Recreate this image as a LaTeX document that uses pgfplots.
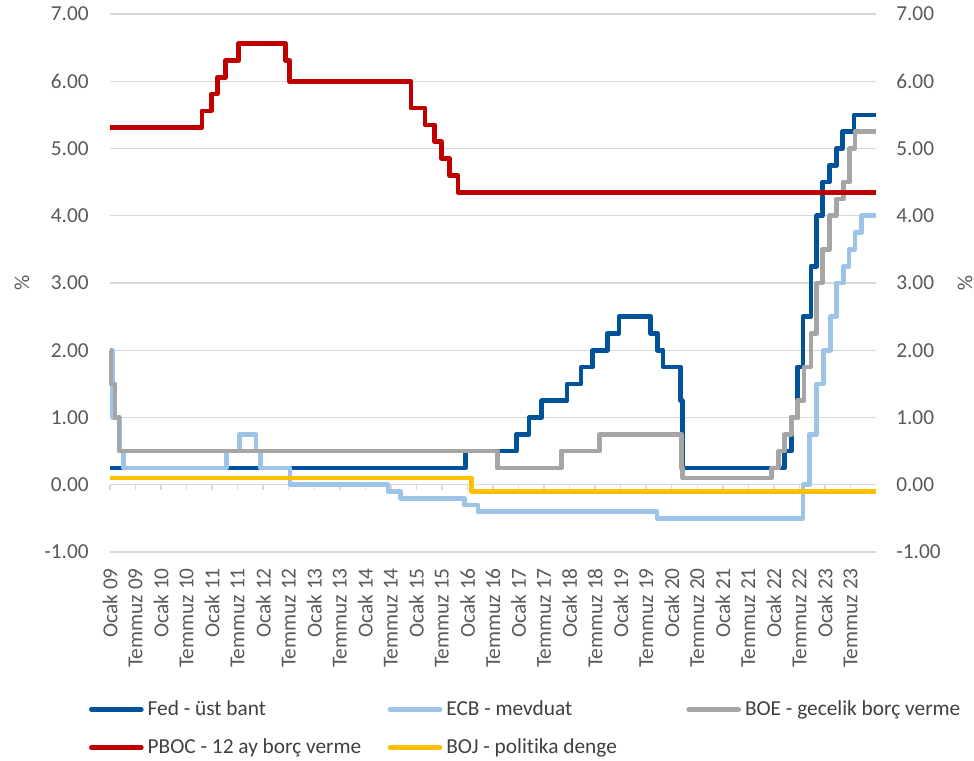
\documentclass[border=0pt]{standalone}
\usepackage{pgfplots}
\pgfplotsset{compat=1.18}
\usepackage{fontspec}
\setmainfont{Carlito}[Ligatures=NoCommon]
\definecolor{fedblue}{HTML}{00529B}
\definecolor{ecbblue}{HTML}{9DC3E6}
\definecolor{boegray}{HTML}{A5A5A5}
\definecolor{pbocred}{HTML}{C00000}
\definecolor{bojyellow}{HTML}{FFC000}
\definecolor{gridgray}{HTML}{D9D9D9}
\definecolor{labgray}{HTML}{595959}
\definecolor{legtext}{HTML}{404040}
\begin{document}
\begin{tikzpicture}
\useasboundingbox (-82.5pt,-156pt) rectangle (648pt,414pt);
\begin{axis}[
  at={(0pt,0pt)}, anchor=south west,
  scale only axis, width=574.5pt, height=403.5pt,
  xmin=0, xmax=180, ymin=-1, ymax=7,
  clip=false,
  axis line style={draw=none},
  major tick length=0pt,
  ytick={-1,0,...,7},
  yticklabels={-1.00,0.00,1.00,2.00,3.00,4.00,5.00,6.00,7.00},
  xtick={0,6,...,174},
  xticklabels={Ocak 09,Temmuz 09,Ocak 10,Temmuz 10,Ocak 11,Temmuz 11,Ocak 12,Temmuz 12,Ocak 13,Temmuz 13,Ocak 14,Temmuz 14,Ocak 15,Temmuz 15,Ocak 16,Temmuz 16,Ocak 17,Temmuz 17,Ocak 18,Temmuz 18,Ocak 19,Temmuz 19,Ocak 20,Temmuz 20,Ocak 21,Temmuz 21,Ocak 22,Temmuz 22,Ocak 23,Temmuz 23},
  ymajorgrids, major grid style={gridgray, line width=1.1pt},
  tick label style={font=\fontsize{16}{19}\selectfont, text=labgray},
  yticklabel style={anchor=east, inner sep=0pt},
  yticklabel shift=15.75pt,
  xticklabel style={rotate=90, anchor=east, inner sep=0pt},
  xticklabel shift=12pt,
  ylabel={\%},
  ylabel style={at={(axis description cs:-0.1149,0.5)}, anchor=center, font=\fontsize{16}{19}\selectfont, text=labgray},
  legend columns=3,
  legend cell align=left,
  legend image code/.code={\draw[#1, line cap=round] (0pt,0pt) -- (37.5pt,0pt);},
  legend style={at={(axis description cs:-0.0274,-0.2770)}, anchor=north west, draw=none, fill=none, inner sep=0pt, outer sep=0pt, font=\fontsize{16}{19}\selectfont, text=legtext, row sep=16pt, nodes={inner sep=0pt}, /tikz/every odd column/.append style={column sep=3pt}},
  every axis plot/.append style={line width=3.5pt, line join=round, mark=none},
]
\draw[gridgray, line width=1.1pt] (axis cs:0,0) -- (axis cs:180,0);
\pgfplotsinvokeforeach{0,6,...,174}{\draw[gridgray, line width=1.1pt] (axis cs:#1,0) -- ++(0pt,-4pt);}

% Fed upper bound
\addplot[const plot, fedblue] coordinates {
(0,0.25) (83.52,0.50) (95.45,0.75) (98.48,1.00) (101.47,1.25) (107.42,1.50)
(110.68,1.75) (113.43,2.00) (116.87,2.25) (119.61,2.50) (127.0,2.25) (128.6,2.00)
(129.97,1.75) (134.1,1.25) (134.48,0.25) (158.52,0.50) (160.13,1.00) (161.5,1.75)
(162.87,2.50) (164.7,3.25) (166.07,4.00) (167.45,4.50) (169.04,4.75) (170.71,5.00)
(172.1,5.25) (174.84,5.50) (180,5.50)};
\addlegendentry{\makebox[180pt][l]{Fed - üst bant}}

% ECB deposit
\addplot[const plot, ecbblue] coordinates {
(0,2.00) (0.65,1.00) (2.32,0.50) (3.23,0.25) (27.4,0.50) (30.39,0.75) (34.27,0.50)
(35.42,0.25) (42.32,0.00) (65.33,-0.10) (68.3,-0.20) (83.26,-0.30) (86.48,-0.40)
(128.57,-0.50) (162.84,0.00) (164.43,0.75) (166.03,1.50) (167.65,2.00) (169.25,2.50)
(170.68,3.00) (172.29,3.25) (173.67,3.50) (175.03,3.75) (176.63,4.00) (180,4.00)};
\addlegendentry{\makebox[180pt][l]{ECB - mevduat}}

% BOE
\addplot[const plot, boegray] coordinates {
(0,2.00) (0.23,1.50) (1.14,1.00) (2.13,0.50) (91.1,0.25) (106.03,0.50) (115.03,0.75)
(134.32,0.25) (134.58,0.10) (155.48,0.25) (157.07,0.50) (158.52,0.75) (160.13,1.00)
(161.5,1.25) (163.1,1.75) (164.7,2.25) (166.07,3.00) (167.45,3.50) (169.04,4.00)
(170.71,4.25) (172.32,4.50) (173.7,5.00) (175.06,5.25) (180,5.25)};
\addlegendentry{BOE - gecelik borç verme}

% PBOC
\addplot[const plot, pbocred] coordinates {
(0,5.31) (21.61,5.56) (23.81,5.81) (25.29,6.06) (27.17,6.31) (30.19,6.56)
(41.23,6.31) (42.16,6.00) (70.7,5.60) (74.0,5.35) (76.32,5.10) (77.9,4.85)
(79.81,4.60) (81.74,4.35) (180,4.35)};
\addlegendentry{\makebox[180pt][l]{PBOC - 12 ay borç verme}}

% BOJ
\addplot[const plot, bojyellow] coordinates {
(0,0.10) (84.9,-0.10) (180,-0.10)};
\addlegendentry{\makebox[180pt][l]{BOJ - politika denge}}
\end{axis}

\begin{axis}[
  at={(0pt,0pt)}, anchor=south west,
  scale only axis, width=574.5pt, height=403.5pt,
  xmin=0, xmax=180, ymin=-1, ymax=7,
  axis y line*=right, axis x line=none,
  y axis line style={draw=none},
  major tick length=0pt,
  ytick={-1,0,...,7},
  yticklabels={-1.00,0.00,1.00,2.00,3.00,4.00,5.00,6.00,7.00},
  yticklabel style={anchor=west, inner sep=0pt, font=\fontsize{16}{19}\selectfont, text=labgray},
  yticklabel shift=15pt,
  ylabel={\%},
  ylabel style={at={(axis description cs:1.1162,0.5)}, anchor=center, rotate=180, font=\fontsize{16}{19}\selectfont, text=labgray},
]
\end{axis}
\end{tikzpicture}
\end{document}
